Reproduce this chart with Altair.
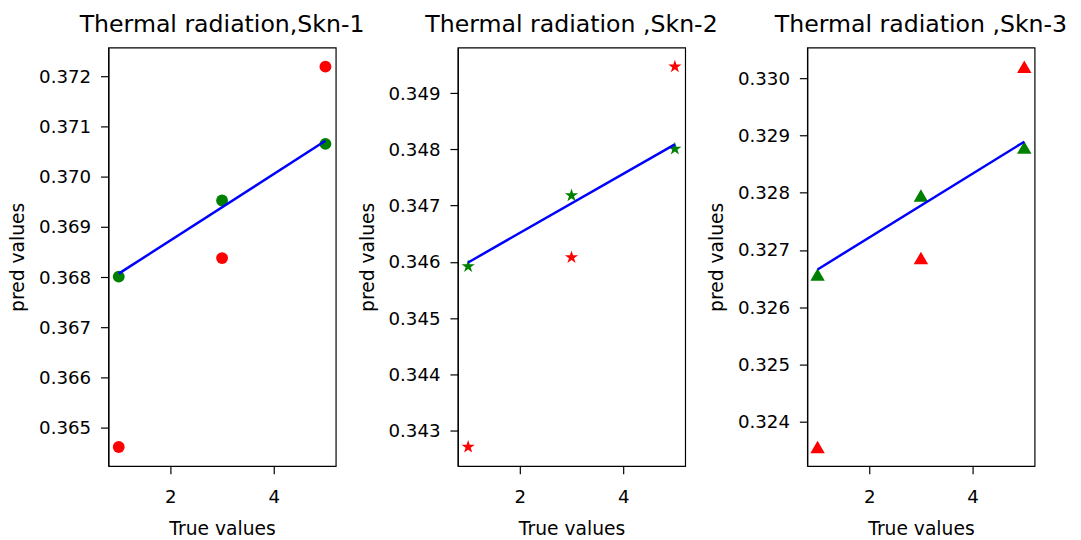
import altair as alt
import pandas as pd

# ---- data ----
x_vals = [1, 3, 5]
line_x = [1, 5]
titles = ["Thermal radiation,Skn-1", "Thermal radiation ,Skn-2", "Thermal radiation ,Skn-3"]

red_1 = [0.36461, 0.36838, 0.37220]
green_1 = [0.36801, 0.36953, 0.37066]
line_1 = [0.36807, 0.37072]

red_2 = [0.34271, 0.34608, 0.34947]
green_2 = [0.34592, 0.34718, 0.34801]
line_2 = [0.34599, 0.34809]

red_3 = [0.32356, 0.32686, 0.33020]
green_3 = [0.32657, 0.32795, 0.32879]
line_3 = [0.32666, 0.32889]

y_ticks_1 = [0.365, 0.366, 0.367, 0.368, 0.369, 0.370, 0.371, 0.372]
y_ticks_2 = [0.343, 0.344, 0.345, 0.346, 0.347, 0.348, 0.349]
y_ticks_3 = [0.324, 0.325, 0.326, 0.327, 0.328, 0.329, 0.330]
x_ticks = [2, 4]

series_names = ["actual", "fitted"]
series_colors = ["#ff0000", "#008000"]

STAR = ("M0,-1L0.2245,-0.309L0.9511,-0.309L0.3633,0.118L0.5878,0.809L0,0.382"
        "L-0.5878,0.809L-0.3633,0.118L-0.9511,-0.309L-0.2245,-0.309Z")
shapes = ["circle", STAR, "triangle-up"]
sizes = [145, 200, 215]

panels = [
    (red_1, green_1, line_1, y_ticks_1),
    (red_2, green_2, line_2, y_ticks_2),
    (red_3, green_3, line_3, y_ticks_3),
]


def y_domain(vals):
    lo, hi = min(vals), max(vals)
    pad = (hi - lo) * 0.05
    return [round(lo - pad, 6), round(hi + pad, 6)]


def make_panel(i):
    red, green, line, yt = panels[i]
    pts = pd.DataFrame({
        "x": x_vals + x_vals,
        "y": red + green,
        "s": [series_names[0]] * 3 + [series_names[1]] * 3,
    })
    ln = pd.DataFrame({"x": line_x, "y": line})
    dom = y_domain(red + green + line)
    xs = alt.Scale(domain=[0.8, 5.2], nice=False, zero=False)
    ys = alt.Scale(domain=dom, nice=False, zero=False)
    xa = alt.Axis(values=x_ticks, title="True values", format="d",
                  titlePadding=14, labelPadding=14, tickSize=8)
    ya = alt.Axis(values=yt, title="pred values", format=".3f",
                  titlePadding=11, labelPadding=10, tickSize=8)

    points = alt.Chart(pts).mark_point(
        filled=True, opacity=1, shape=shapes[i], size=sizes[i]
    ).encode(
        x=alt.X("x:Q", scale=xs, axis=xa),
        y=alt.Y("y:Q", scale=ys, axis=ya),
        color=alt.Color("s:N", scale=alt.Scale(domain=series_names, range=series_colors), legend=None),
    )
    fit = alt.Chart(ln).mark_line(color="#0000ff", strokeWidth=2.5).encode(
        x=alt.X("x:Q", scale=xs),
        y=alt.Y("y:Q", scale=ys),
    )
    return alt.layer(points, fit).properties(
        width=231, height=425,
        title=alt.TitleParams(titles[i], offset=11),
    )


chart = alt.hconcat(
    make_panel(0), make_panel(1), make_panel(2), spacing=124, bounds="flush"
).properties(
    padding={"left": 0, "top": 0, "right": 5, "bottom": 2}
).configure_view(
    stroke="black", strokeWidth=1.2
).configure_axis(
    grid=False,
    domainColor="black", domainWidth=1.2,
    tickColor="black", tickWidth=1.2,
    labelColor="black", titleColor="black",
    labelFont="DejaVu Sans", titleFont="DejaVu Sans",
    labelFontSize=18.5, titleFontSize=19, titleFontWeight="normal",
).configure_title(
    font="DejaVu Sans", fontSize=24, fontWeight="normal", color="black"
)

chart.save("out.html", embed_options={"renderer": "svg", "actions": False})
